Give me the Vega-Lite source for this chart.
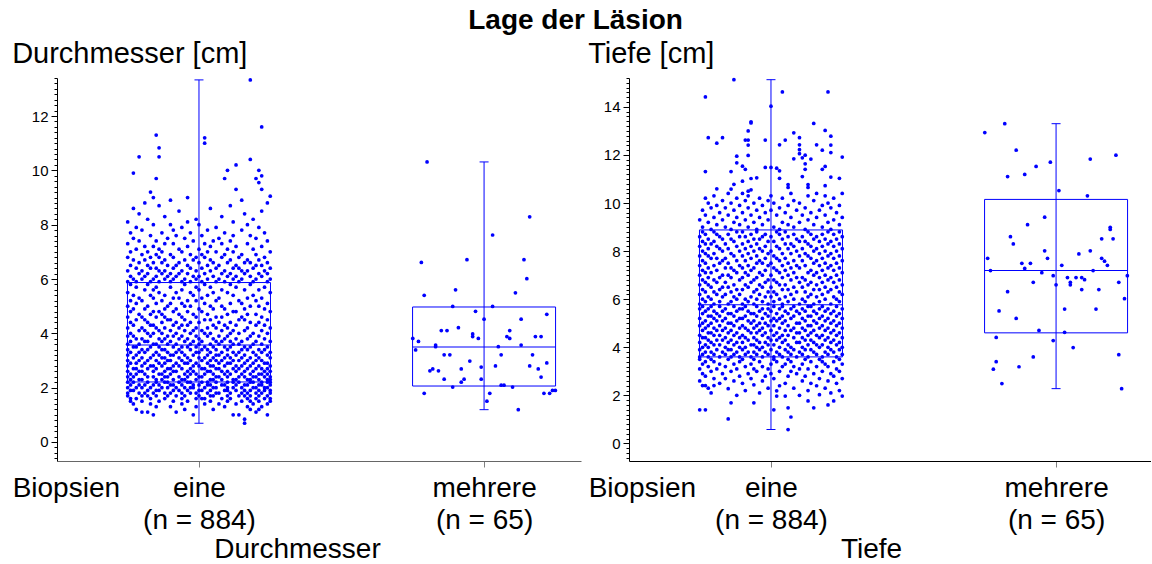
{
  "$schema": "https://vega.github.io/schema/vega-lite/v6.json",
  "padding": {"left": 12, "top": 7, "right": 0, "bottom": 0},
  "title": {"text": "Lage der Läsion", "fontSize": 28, "fontWeight": "bold", "anchor": "middle", "offset": 5, "dx": -6},
  "spacing": 7,
  "hconcat": [
    {
      "width": 524,
      "height": 383,
      "title": {"text": "Durchmesser [cm]", "anchor": "start", "frame": "bounds", "fontSize": 29, "fontWeight": "normal", "offset": 2},
      "data": {"values": [
        {"gruppe": "eine", "pos": 100, "lo": 0.69, "q1": 2.21, "med": 3.57, "q3": 5.87, "hi": 13.33},
        {"gruppe": "mehrere", "pos": 200, "lo": 1.19, "q1": 2.06, "med": 3.50, "q3": 4.97, "hi": 10.31}
      ]},
      "encoding": {
        "x": {
          "field": "pos", "type": "quantitative",
          "scale": {"domain": [50.2, 234], "nice": false, "zero": false, "padding": 0},
          "axis": {
            "values": [53.3, 100, 200],
            "labelExpr": "datum.value < 80 ? 'Biopsien' : datum.value < 150 ? ['eine', '(n = 884)'] : ['mehrere', '(n = 65)']",
            "labelFontSize": 28, "labelLineHeight": 32, "labelPadding": 7,
            "labelOverlap": false, "labelFlush": false,
            "tickSize": 6, "tickColor": "#808080",
            "tickOpacity": {"condition": {"test": "datum.value < 80", "value": 0}, "value": 1},
            "domainColor": "#666666",
            "title": "Durchmesser", "titleFontSize": 28, "titleFontWeight": "normal", "titleX": 240, "titlePadding": 1
          }
        }
      },
      "layer": [
        {
          "data": {
            "values": "pos,cm\n116,0.69\n116,0.84\n98,1.0\n112,1.0\n114,1.0\n124,1.0\n84,1.0\n80,1.1\n82,1.1\n92,1.1\n120,1.1\n78,1.2\n95,1.2\n105,1.2\n118,1.2\n121,1.2\n85,1.3\n99,1.3\n109,1.3\n117,1.3\n122,1.3\n90,1.3\n77,1.4\n83,1.4\n94,1.4\n102,1.4\n107,1.4\n113,1.4\n119,1.4\n124,1.4\n76,1.5\n80,1.5\n86,1.5\n91,1.5\n96,1.5\n104,1.5\n110,1.5\n115,1.5\n118,1.5\n121,1.5\n125,1.5\n76,1.6\n78,1.6\n83,1.6\n88,1.6\n94,1.6\n99,1.6\n101,1.6\n102,1.6\n108,1.6\n111,1.6\n117,1.6\n120,1.6\n123,1.6\n125,1.6\n75,1.7\n80,1.7\n82,1.7\n85,1.7\n89,1.7\n92,1.7\n95,1.7\n100,1.7\n104,1.7\n105,1.7\n110,1.7\n114,1.7\n116,1.7\n118,1.7\n121,1.7\n124,1.7\n75,1.8\n79,1.8\n81,1.8\n84,1.8\n88,1.8\n90,1.8\n94,1.8\n97,1.8\n99,1.8\n103,1.8\n106,1.8\n107,1.8\n111,1.8\n115,1.8\n117,1.8\n120,1.8\n122,1.8\n125,1.8\n76,1.9\n77,1.9\n82,1.9\n85,1.9\n86,1.9\n91,1.9\n93,1.9\n96,1.9\n100,1.9\n101,1.9\n104,1.9\n109,1.9\n110,1.9\n113,1.9\n116,1.9\n118,1.9\n121,1.9\n123,1.9\n125,1.9\n75,2.0\n78,2.0\n80,2.0\n83,2.0\n87,2.0\n89,2.0\n92,2.0\n95,2.0\n97,2.0\n98,2.0\n102,2.0\n105,2.0\n106,2.0\n110,2.0\n112,2.0\n115,2.0\n119,2.0\n120,2.0\n123,2.0\n124,2.0\n76,2.1\n79,2.1\n81,2.1\n84,2.1\n86,2.1\n90,2.1\n91,2.1\n94,2.1\n98,2.1\n100,2.1\n103,2.1\n104,2.1\n108,2.1\n109,2.1\n113,2.1\n116,2.1\n117,2.1\n121,2.1\n122,2.1\n125,2.1\n75,2.2\n77,2.2\n82,2.2\n85,2.2\n88,2.2\n89,2.2\n93,2.2\n96,2.2\n97,2.2\n101,2.2\n103,2.2\n106,2.2\n110,2.2\n112,2.2\n114,2.2\n118,2.2\n119,2.2\n122,2.2\n124,2.2\n125,2.2\n76,2.3\n79,2.3\n80,2.3\n85,2.3\n87,2.3\n91,2.3\n94,2.3\n95,2.3\n99,2.3\n104,2.3\n105,2.3\n108,2.3\n112,2.3\n113,2.3\n117,2.3\n118,2.3\n121,2.3\n124,2.3\n125,2.3\n75,2.4\n77,2.4\n82,2.4\n84,2.4\n88,2.4\n89,2.4\n93,2.4\n96,2.4\n100,2.4\n101,2.4\n106,2.4\n107,2.4\n110,2.4\n114,2.4\n116,2.4\n119,2.4\n120,2.4\n123,2.4\n125,2.4\n76,2.5\n78,2.5\n81,2.5\n86,2.5\n87,2.5\n90,2.5\n95,2.5\n97,2.5\n99,2.5\n102,2.5\n105,2.5\n109,2.5\n111,2.5\n115,2.5\n118,2.5\n121,2.5\n122,2.5\n124,2.5\n75,2.6\n79,2.6\n80,2.6\n84,2.6\n88,2.6\n91,2.6\n92,2.6\n96,2.6\n98,2.6\n103,2.6\n104,2.6\n108,2.6\n110,2.6\n113,2.6\n116,2.6\n119,2.6\n123,2.6\n125,2.6\n77,2.7\n78,2.7\n82,2.7\n85,2.7\n89,2.7\n90,2.7\n94,2.7\n97,2.7\n101,2.7\n102,2.7\n106,2.7\n107,2.7\n112,2.7\n114,2.7\n117,2.7\n120,2.7\n122,2.7\n124,2.7\n75,2.8\n80,2.8\n83,2.8\n84,2.8\n87,2.8\n91,2.8\n93,2.8\n98,2.8\n100,2.8\n104,2.8\n105,2.8\n109,2.8\n113,2.8\n115,2.8\n118,2.8\n121,2.8\n125,2.8\n76,2.9\n78,2.9\n81,2.9\n86,2.9\n88,2.9\n92,2.9\n95,2.9\n96,2.9\n99,2.9\n103,2.9\n107,2.9\n110,2.9\n111,2.9\n116,2.9\n119,2.9\n123,2.9\n124,2.9\n75,3.0\n79,3.0\n82,3.0\n85,3.0\n89,3.0\n90,3.0\n94,3.0\n97,3.0\n101,3.0\n104,3.0\n106,3.0\n108,3.0\n112,3.0\n114,3.0\n117,3.0\n120,3.0\n122,3.0\n77,3.1\n80,3.1\n83,3.1\n87,3.1\n88,3.1\n93,3.1\n96,3.1\n100,3.1\n102,3.1\n105,3.1\n109,3.1\n111,3.1\n115,3.1\n118,3.1\n121,3.1\n125,3.1\n75,3.2\n78,3.2\n84,3.2\n86,3.2\n90,3.2\n91,3.2\n95,3.2\n98,3.2\n103,3.2\n106,3.2\n107,3.2\n110,3.2\n113,3.2\n116,3.2\n120,3.2\n124,3.2\n76,3.3\n79,3.3\n81,3.3\n85,3.3\n89,3.3\n92,3.3\n94,3.3\n99,3.3\n100,3.3\n104,3.3\n108,3.3\n112,3.3\n114,3.3\n119,3.3\n122,3.3\n125,3.3\n75,3.4\n80,3.4\n82,3.4\n87,3.4\n88,3.4\n93,3.4\n97,3.4\n101,3.4\n103,3.4\n106,3.4\n110,3.4\n115,3.4\n117,3.4\n121,3.4\n123,3.4\n77,3.5\n78,3.5\n83,3.5\n86,3.5\n91,3.5\n94,3.5\n96,3.5\n99,3.5\n102,3.5\n105,3.5\n109,3.5\n111,3.5\n116,3.5\n118,3.5\n124,3.5\n75,3.6\n79,3.6\n84,3.6\n85,3.6\n89,3.6\n92,3.6\n97,3.6\n100,3.6\n104,3.6\n107,3.6\n112,3.6\n114,3.6\n119,3.6\n122,3.6\n76,3.7\n81,3.7\n82,3.7\n87,3.7\n90,3.7\n95,3.7\n98,3.7\n101,3.7\n106,3.7\n108,3.7\n111,3.7\n115,3.7\n120,3.7\n125,3.7\n78,3.8\n80,3.8\n86,3.8\n88,3.8\n93,3.8\n96,3.8\n100,3.8\n105,3.8\n109,3.8\n113,3.8\n117,3.8\n123,3.8\n75,3.9\n77,3.9\n83,3.9\n89,3.9\n91,3.9\n94,3.9\n99,3.9\n103,3.9\n107,3.9\n110,3.9\n118,3.9\n121,3.9\n76,4.0\n82,4.0\n84,4.0\n87,4.0\n92,4.0\n97,4.0\n102,4.0\n104,4.0\n111,4.0\n114,4.0\n119,4.0\n124,4.0\n79,4.1\n81,4.1\n86,4.1\n90,4.1\n95,4.1\n98,4.1\n101,4.1\n108,4.1\n112,4.1\n116,4.1\n122,4.1\n75,4.2\n80,4.2\n85,4.2\n88,4.2\n93,4.2\n99,4.2\n103,4.2\n106,4.2\n110,4.2\n117,4.2\n125,4.2\n77,4.3\n83,4.3\n84,4.3\n91,4.3\n94,4.3\n96,4.3\n105,4.3\n109,4.3\n113,4.3\n120,4.3\n123,4.3\n76,4.4\n82,4.4\n87,4.4\n92,4.4\n97,4.4\n100,4.4\n107,4.4\n111,4.4\n118,4.4\n121,4.4\n78,4.5\n81,4.5\n89,4.5\n90,4.5\n95,4.5\n102,4.5\n104,4.5\n114,4.5\n116,4.5\n124,4.5\n75,4.6\n80,4.6\n85,4.6\n88,4.6\n94,4.6\n99,4.6\n106,4.6\n108,4.6\n115,4.6\n122,4.6\n79,4.7\n83,4.7\n87,4.7\n93,4.7\n98,4.7\n103,4.7\n110,4.7\n117,4.7\n120,4.7\n76,4.8\n84,4.8\n86,4.8\n91,4.8\n96,4.8\n101,4.8\n112,4.8\n113,4.8\n125,4.8\n77,4.9\n81,4.9\n88,4.9\n92,4.9\n100,4.9\n105,4.9\n109,4.9\n116,4.9\n123,4.9\n75,5.0\n82,5.0\n89,5.0\n95,5.0\n97,5.0\n104,5.0\n108,5.0\n118,5.0\n121,5.0\n78,5.1\n85,5.1\n90,5.1\n94,5.1\n102,5.1\n111,5.1\n115,5.1\n124,5.1\n76,5.2\n80,5.2\n87,5.2\n96,5.2\n99,5.2\n106,5.2\n114,5.2\n120,5.2\n79,5.3\n84,5.3\n91,5.3\n93,5.3\n101,5.3\n107,5.3\n117,5.3\n122,5.3\n77,5.4\n83,5.4\n88,5.4\n98,5.4\n103,5.4\n112,5.4\n119,5.4\n75,5.5\n86,5.5\n92,5.5\n97,5.5\n105,5.5\n110,5.5\n125,5.5\n81,5.6\n84,5.6\n94,5.6\n100,5.6\n108,5.6\n116,5.6\n121,5.6\n78,5.7\n85,5.7\n90,5.7\n99,5.7\n104,5.7\n113,5.7\n123,5.7\n76,5.8\n82,5.8\n95,5.8\n102,5.8\n111,5.8\n118,5.8\n75,5.9\n78,5.9\n83,5.9\n86,5.9\n90,5.9\n94,5.9\n97,5.9\n101,5.9\n106,5.9\n109,5.9\n114,5.9\n119,5.9\n124,5.9\n77,6.0\n80,6.0\n84,6.0\n88,6.0\n91,6.0\n95,6.0\n99,6.0\n103,6.0\n107,6.0\n112,6.0\n115,6.0\n120,6.0\n125,6.0\n76,6.1\n81,6.1\n85,6.1\n89,6.1\n92,6.1\n98,6.1\n100,6.1\n105,6.1\n110,6.1\n113,6.1\n118,6.1\n122,6.1\n79,6.2\n82,6.2\n87,6.2\n90,6.2\n93,6.2\n96,6.2\n102,6.2\n108,6.2\n111,6.2\n116,6.2\n121,6.2\n124,6.2\n75,6.3\n80,6.3\n86,6.3\n88,6.3\n94,6.3\n99,6.3\n104,6.3\n109,6.3\n115,6.3\n117,6.3\n123,6.3\n78,6.4\n83,6.4\n85,6.4\n91,6.4\n97,6.4\n101,6.4\n106,6.4\n112,6.4\n114,6.4\n119,6.4\n125,6.4\n76,6.5\n82,6.5\n89,6.5\n92,6.5\n96,6.5\n103,6.5\n107,6.5\n113,6.5\n120,6.5\n122,6.5\n79,6.6\n84,6.6\n87,6.6\n93,6.6\n100,6.6\n105,6.6\n110,6.6\n116,6.6\n118,6.6\n124,6.6\n77,6.7\n81,6.7\n88,6.7\n95,6.7\n98,6.7\n104,6.7\n111,6.7\n117,6.7\n121,6.7\n75,6.8\n83,6.8\n86,6.8\n91,6.8\n99,6.8\n102,6.8\n108,6.8\n114,6.8\n123,6.8\n80,6.9\n85,6.9\n90,6.9\n97,6.9\n101,6.9\n109,6.9\n115,6.9\n120,6.9\n76,7.0\n82,7.0\n87,7.0\n94,7.0\n103,7.0\n106,7.0\n112,7.0\n125,7.0\n78,7.1\n86,7.1\n93,7.1\n100,7.1\n110,7.1\n119,7.1\n81,7.2\n84,7.2\n96,7.2\n104,7.2\n113,7.2\n122,7.2\n75,7.3\n88,7.3\n91,7.3\n102,7.3\n108,7.3\n117,7.3\n79,7.4\n85,7.4\n98,7.4\n105,7.4\n111,7.4\n124,7.4\n77,7.5\n89,7.5\n95,7.5\n107,7.5\n120,7.5\n83,7.6\n92,7.6\n101,7.6\n112,7.6\n118,7.6\n76,7.7\n87,7.7\n97,7.7\n109,7.7\n123,7.7\n80,7.8\n91,7.8\n103,7.8\n115,7.8\n78,7.9\n94,7.9\n106,7.9\n121,7.9\n84,8.0\n90,8.0\n100,8.0\n117,8.0\n75,8.1\n96,8.1\n112,8.1\n82,8.2\n99,8.2\n119,8.2\n88,8.3\n108,8.3\n79,8.4\n116,8.4\n93,8.5\n122,8.5\n77,8.6\n104,8.6\n86,8.7\n111,8.7\n81,8.8\n124,8.8\n90,8.9\n115,8.9\n77,9.9\n79,10.5\n85,11.3\n86,10.83\n86,10.5\n85,9.7\n83,9.2\n84,9.0\n96,9.0\n102,11.2\n102,11.0\n109,9.7\n110,10.0\n113,10.2\n113,9.3\n118,10.4\n118,13.33\n122,11.6\n121,10.0\n122,9.8\n120,9.7\n121,9.55\n122,9.3\n125,9.05\n180,10.31\n216,8.29\n203,7.62\n178,6.61\n194,6.71\n214,6.71\n215,6.01\n190,5.60\n179,5.40\n211,5.49\n189,4.99\n203,4.99\n197,4.81\n200,4.52\n213,4.52\n222,4.70\n185,4.10\n187,4.10\n191,4.21\n209,4.10\n196,3.98\n196,3.88\n198,3.81\n208,3.88\n209,3.81\n218,3.88\n220,3.88\n175,3.81\n177,3.70\n183,3.57\n183,3.51\n205,3.51\n213,3.57\n176,3.39\n186,3.21\n188,3.21\n206,3.21\n217,3.21\n195,2.98\n222,2.91\n199,2.76\n204,2.80\n216,2.80\n192,2.69\n219,2.69\n181,2.62\n182,2.69\n184,2.62\n220,2.39\n186,2.31\n193,2.31\n199,2.31\n192,2.20\n189,2.02\n206,2.09\n207,2.09\n210,2.02\n179,1.79\n202,1.79\n221,1.79\n223,1.79\n224,1.90\n225,1.90\n201,1.50\n212,1.19",
            "format": {"type": "csv", "parse": {"pos": "number", "cm": "number"}}
          },
          "mark": {"type": "circle", "size": 14, "opacity": 1, "color": "#0000ff"},
          "encoding": {
            "y": {
              "field": "cm", "type": "quantitative",
              "scale": {"domain": [-0.7, 13.4], "nice": false, "zero": false, "padding": 0},
              "axis": {
                "title": null, "tickCount": 70,
                "labelExpr": "round(datum.value * 5) % 10 == 0 ? format(datum.value, 'd') : ''",
                "tickSize": {"condition": {"test": "round(datum.value * 5) % 10 == 0", "value": 6}, "value": 3},
                "labelFontSize": 15, "labelPadding": 3, "labelOverlap": false, "labelFlush": false
              }
            }
          }
        },
        {
          "mark": {"type": "rule", "color": "#0000ff", "strokeWidth": 1, "opacity": 1},
          "encoding": {
            "y": {"field": "lo", "type": "quantitative", "scale": {"domain": [-0.7, 13.4], "nice": false, "zero": false, "padding": 0}},
            "y2": {"field": "hi"}
          }
        },
        {
          "mark": {"type": "bar", "size": 143, "fill": "transparent", "stroke": "#0000ff", "strokeWidth": 1, "opacity": 1},
          "encoding": {
            "y": {"field": "q1", "type": "quantitative", "scale": {"domain": [-0.7, 13.4], "nice": false, "zero": false, "padding": 0}},
            "y2": {"field": "q3"}
          }
        },
        {
          "mark": {"type": "tick", "orient": "horizontal", "size": 143, "thickness": 1, "color": "#0000ff", "opacity": 1},
          "encoding": {
            "y": {"field": "med", "type": "quantitative", "scale": {"domain": [-0.7, 13.4], "nice": false, "zero": false, "padding": 0}}
          }
        },
        {
          "mark": {"type": "tick", "orient": "horizontal", "size": 9, "thickness": 1, "color": "#0000ff", "opacity": 1},
          "encoding": {
            "y": {"field": "lo", "type": "quantitative", "scale": {"domain": [-0.7, 13.4], "nice": false, "zero": false, "padding": 0}}
          }
        },
        {
          "mark": {"type": "tick", "orient": "horizontal", "size": 9, "thickness": 1, "color": "#0000ff", "opacity": 1},
          "encoding": {
            "y": {"field": "hi", "type": "quantitative", "scale": {"domain": [-0.7, 13.4], "nice": false, "zero": false, "padding": 0}}
          }
        }
      ]
    },
    {
      "width": 522,
      "height": 383,
      "title": {"text": "Tiefe [cm]", "anchor": "start", "frame": "bounds", "fontSize": 29, "fontWeight": "normal", "offset": 2},
      "data": {"values": [
        {"gruppe": "eine", "pos": 100, "lo": 0.58, "q1": 3.60, "med": 5.77, "q3": 8.88, "hi": 15.13},
        {"gruppe": "mehrere", "pos": 200, "lo": 2.28, "q1": 4.60, "med": 7.19, "q3": 10.15, "hi": 13.30}
      ]},
      "encoding": {
        "x": {
          "field": "pos", "type": "quantitative",
          "scale": {"domain": [50.2, 233.3], "nice": false, "zero": false, "padding": 0},
          "axis": {
            "values": [54.7, 100, 200],
            "labelExpr": "datum.value < 80 ? 'Biopsien' : datum.value < 150 ? ['eine', '(n = 884)'] : ['mehrere', '(n = 65)']",
            "labelFontSize": 28, "labelLineHeight": 32, "labelPadding": 7,
            "labelOverlap": false, "labelFlush": false,
            "tickSize": 6, "tickColor": "#808080",
            "tickOpacity": {"condition": {"test": "datum.value < 80", "value": 0}, "value": 1},
            "domainColor": "#000000",
            "title": "Tiefe", "titleFontSize": 28, "titleFontWeight": "normal", "titleX": 242, "titlePadding": 1
          }
        }
      },
      "layer": [
        {
          "data": {
            "values": "pos,cm\n106,0.58\n107,1.10\n85,1.02\n101,1.40\n75,1.40\n77,1.40\n106,1.48\n115,1.48\n120,1.60\n86,1.69\n94,1.69\n113,1.77\n122,1.77\n105,1.97\n102,1.97\n125,1.97\n117,2.03\n88,2.0\n110,2.0\n79,2.1\n96,2.1\n121,2.1\n102,2.19\n91,2.2\n113,2.2\n124,2.2\n85,2.28\n78,2.3\n99,2.3\n108,2.3\n119,2.3\n76,2.41\n77,2.41\n80,2.41\n94,2.44\n103,2.4\n116,2.4\n82,2.5\n90,2.5\n105,2.5\n114,2.5\n123,2.5\n75,2.6\n87,2.6\n97,2.6\n111,2.6\n120,2.6\n80,2.7\n84,2.7\n93,2.7\n101,2.7\n117,2.7\n125,2.7\n77,2.8\n89,2.8\n98,2.8\n106,2.8\n112,2.8\n122,2.8\n76,2.9\n83,2.9\n92,2.9\n100,2.9\n109,2.9\n115,2.9\n121,2.9\n79,3.0\n86,3.0\n95,3.0\n103,3.0\n107,3.0\n118,3.0\n124,3.0\n75,3.1\n81,3.1\n88,3.1\n94,3.1\n99,3.1\n110,3.1\n113,3.1\n123,3.1\n78,3.2\n84,3.2\n91,3.2\n97,3.2\n104,3.2\n108,3.2\n116,3.2\n120,3.2\n76,3.3\n82,3.3\n87,3.3\n93,3.3\n100,3.3\n105,3.3\n111,3.3\n119,3.3\n125,3.3\n77,3.4\n80,3.4\n89,3.4\n96,3.4\n102,3.4\n107,3.4\n114,3.4\n118,3.4\n122,3.4\n75,3.5\n79,3.5\n85,3.5\n90,3.5\n94,3.5\n101,3.5\n106,3.5\n112,3.5\n117,3.5\n124,3.5\n75,3.6\n78,3.6\n82,3.6\n86,3.6\n89,3.6\n93,3.6\n97,3.6\n101,3.6\n104,3.6\n109,3.6\n113,3.6\n118,3.6\n123,3.6\n76,3.7\n80,3.7\n84,3.7\n87,3.7\n91,3.7\n95,3.7\n99,3.7\n103,3.7\n107,3.7\n111,3.7\n116,3.7\n120,3.7\n125,3.7\n77,3.8\n79,3.8\n83,3.8\n88,3.8\n92,3.8\n94,3.8\n98,3.8\n102,3.8\n106,3.8\n110,3.8\n115,3.8\n119,3.8\n122,3.8\n75,3.9\n81,3.9\n85,3.9\n86,3.9\n90,3.9\n96,3.9\n100,3.9\n105,3.9\n108,3.9\n112,3.9\n114,3.9\n121,3.9\n124,3.9\n76,4.0\n78,4.0\n84,4.0\n89,4.0\n91,4.0\n95,4.0\n97,4.0\n103,4.0\n107,4.0\n111,4.0\n117,4.0\n120,4.0\n125,4.0\n77,4.1\n80,4.1\n82,4.1\n87,4.1\n93,4.1\n94,4.1\n99,4.1\n101,4.1\n106,4.1\n113,4.1\n116,4.1\n118,4.1\n123,4.1\n75,4.2\n79,4.2\n85,4.2\n88,4.2\n90,4.2\n96,4.2\n98,4.2\n104,4.2\n109,4.2\n110,4.2\n115,4.2\n121,4.2\n124,4.2\n78,4.3\n81,4.3\n83,4.3\n86,4.3\n92,4.3\n95,4.3\n100,4.3\n102,4.3\n105,4.3\n112,4.3\n114,4.3\n119,4.3\n122,4.3\n76,4.4\n77,4.4\n84,4.4\n89,4.4\n91,4.4\n94,4.4\n99,4.4\n103,4.4\n108,4.4\n111,4.4\n117,4.4\n120,4.4\n125,4.4\n75,4.5\n80,4.5\n82,4.5\n87,4.5\n90,4.5\n97,4.5\n101,4.5\n104,4.5\n106,4.5\n113,4.5\n116,4.5\n118,4.5\n123,4.5\n78,4.6\n79,4.6\n85,4.6\n88,4.6\n93,4.6\n95,4.6\n98,4.6\n102,4.6\n109,4.6\n110,4.6\n114,4.6\n121,4.6\n124,4.6\n76,4.7\n81,4.7\n83,4.7\n86,4.7\n92,4.7\n96,4.7\n100,4.7\n105,4.7\n107,4.7\n112,4.7\n115,4.7\n119,4.7\n122,4.7\n77,4.8\n80,4.8\n84,4.8\n89,4.8\n91,4.8\n94,4.8\n97,4.8\n103,4.8\n108,4.8\n111,4.8\n117,4.8\n120,4.8\n125,4.8\n75,4.9\n78,4.9\n82,4.9\n87,4.9\n90,4.9\n95,4.9\n99,4.9\n101,4.9\n106,4.9\n113,4.9\n114,4.9\n118,4.9\n123,4.9\n76,5.0\n79,5.0\n85,5.0\n86,5.0\n93,5.0\n96,5.0\n98,5.0\n104,5.0\n109,5.0\n110,5.0\n116,5.0\n121,5.0\n124,5.0\n77,5.1\n81,5.1\n83,5.1\n88,5.1\n92,5.1\n94,5.1\n100,5.1\n102,5.1\n105,5.1\n112,5.1\n115,5.1\n119,5.1\n122,5.1\n75,5.2\n80,5.2\n84,5.2\n89,5.2\n90,5.2\n97,5.2\n101,5.2\n103,5.2\n107,5.2\n111,5.2\n117,5.2\n120,5.2\n125,5.2\n78,5.3\n79,5.3\n82,5.3\n87,5.3\n91,5.3\n95,5.3\n99,5.3\n104,5.3\n108,5.3\n113,5.3\n114,5.3\n118,5.3\n123,5.3\n76,5.4\n81,5.4\n85,5.4\n86,5.4\n93,5.4\n94,5.4\n98,5.4\n102,5.4\n106,5.4\n110,5.4\n116,5.4\n121,5.4\n124,5.4\n77,5.5\n80,5.5\n83,5.5\n88,5.5\n92,5.5\n96,5.5\n100,5.5\n105,5.5\n109,5.5\n112,5.5\n115,5.5\n119,5.5\n122,5.5\n75,5.6\n78,5.6\n84,5.6\n89,5.6\n90,5.6\n97,5.6\n99,5.6\n103,5.6\n107,5.6\n111,5.6\n117,5.6\n120,5.6\n125,5.6\n76,5.7\n79,5.7\n82,5.7\n87,5.7\n91,5.7\n95,5.7\n101,5.7\n104,5.7\n108,5.7\n113,5.7\n114,5.7\n118,5.7\n123,5.7\n75,5.8\n80,5.8\n85,5.8\n90,5.8\n94,5.8\n99,5.8\n104,5.8\n110,5.8\n115,5.8\n121,5.8\n77,5.9\n82,5.9\n86,5.9\n92,5.9\n97,5.9\n101,5.9\n106,5.9\n112,5.9\n117,5.9\n124,5.9\n76,6.0\n79,6.0\n88,6.0\n91,6.0\n95,6.0\n103,6.0\n108,6.0\n111,6.0\n119,6.0\n123,6.0\n78,6.1\n83,6.1\n87,6.1\n93,6.1\n98,6.1\n100,6.1\n105,6.1\n113,6.1\n116,6.1\n122,6.1\n75,6.2\n81,6.2\n84,6.2\n89,6.2\n96,6.2\n102,6.2\n107,6.2\n114,6.2\n118,6.2\n125,6.2\n77,6.3\n80,6.3\n86,6.3\n94,6.3\n99,6.3\n101,6.3\n109,6.3\n112,6.3\n120,6.3\n124,6.3\n76,6.4\n82,6.4\n88,6.4\n90,6.4\n95,6.4\n104,6.4\n106,6.4\n115,6.4\n117,6.4\n121,6.4\n79,6.5\n83,6.5\n85,6.5\n92,6.5\n97,6.5\n100,6.5\n108,6.5\n111,6.5\n119,6.5\n123,6.5\n75,6.6\n78,6.6\n87,6.6\n91,6.6\n96,6.6\n103,6.6\n105,6.6\n113,6.6\n116,6.6\n125,6.6\n77,6.7\n81,6.7\n84,6.7\n93,6.7\n98,6.7\n102,6.7\n110,6.7\n114,6.7\n118,6.7\n122,6.7\n76,6.8\n80,6.8\n89,6.8\n94,6.8\n99,6.8\n101,6.8\n107,6.8\n112,6.8\n120,6.8\n124,6.8\n78,6.9\n82,6.9\n86,6.9\n90,6.9\n95,6.9\n104,6.9\n109,6.9\n111,6.9\n117,6.9\n121,6.9\n75,7.0\n83,7.0\n85,7.0\n92,7.0\n97,7.0\n100,7.0\n106,7.0\n115,7.0\n119,7.0\n123,7.0\n77,7.1\n79,7.1\n88,7.1\n91,7.1\n96,7.1\n103,7.1\n108,7.1\n113,7.1\n116,7.1\n125,7.1\n76,7.2\n81,7.2\n87,7.2\n93,7.2\n98,7.2\n102,7.2\n105,7.2\n114,7.2\n118,7.2\n122,7.2\n78,7.3\n84,7.3\n86,7.3\n90,7.3\n94,7.3\n101,7.3\n107,7.3\n110,7.3\n120,7.3\n124,7.3\n75,7.4\n80,7.4\n89,7.4\n92,7.4\n99,7.4\n104,7.4\n109,7.4\n112,7.4\n117,7.4\n121,7.4\n77,7.5\n82,7.5\n85,7.5\n95,7.5\n97,7.5\n100,7.5\n106,7.5\n115,7.5\n119,7.5\n123,7.5\n76,7.6\n83,7.6\n88,7.6\n91,7.6\n96,7.6\n103,7.6\n108,7.6\n111,7.6\n116,7.6\n125,7.6\n79,7.7\n81,7.7\n84,7.7\n93,7.7\n98,7.7\n102,7.7\n105,7.7\n114,7.7\n118,7.7\n122,7.7\n75,7.8\n78,7.8\n87,7.8\n90,7.8\n95,7.8\n101,7.8\n110,7.8\n113,7.8\n120,7.8\n124,7.8\n77,7.9\n80,7.9\n86,7.9\n92,7.9\n99,7.9\n104,7.9\n107,7.9\n112,7.9\n117,7.9\n121,7.9\n76,8.0\n83,8.0\n89,8.0\n94,8.0\n97,8.0\n100,8.0\n109,8.0\n115,8.0\n119,8.0\n123,8.0\n78,8.1\n82,8.1\n85,8.1\n91,8.1\n96,8.1\n103,8.1\n106,8.1\n111,8.1\n116,8.1\n125,8.1\n75,8.2\n81,8.2\n88,8.2\n93,8.2\n98,8.2\n102,8.2\n108,8.2\n114,8.2\n118,8.2\n122,8.2\n77,8.3\n79,8.3\n84,8.3\n90,8.3\n95,8.3\n105,8.3\n107,8.3\n113,8.3\n120,8.3\n124,8.3\n76,8.4\n80,8.4\n87,8.4\n92,8.4\n99,8.4\n101,8.4\n110,8.4\n112,8.4\n117,8.4\n121,8.4\n78,8.5\n83,8.5\n86,8.5\n94,8.5\n96,8.5\n104,8.5\n109,8.5\n115,8.5\n119,8.5\n123,8.5\n75,8.6\n82,8.6\n89,8.6\n91,8.6\n97,8.6\n100,8.6\n106,8.6\n111,8.6\n116,8.6\n125,8.6\n77,8.7\n81,8.7\n85,8.7\n93,8.7\n98,8.7\n103,8.7\n108,8.7\n114,8.7\n118,8.7\n122,8.7\n76,8.8\n80,8.8\n88,8.8\n90,8.8\n95,8.8\n102,8.8\n105,8.8\n113,8.8\n120,8.8\n124,8.8\n79,8.9\n86,8.9\n95,8.9\n103,8.9\n112,8.9\n121,8.9\n76,9.0\n84,9.0\n92,9.0\n101,9.0\n108,9.0\n118,9.0\n81,9.1\n89,9.1\n97,9.1\n106,9.1\n115,9.1\n124,9.1\n78,9.2\n87,9.2\n94,9.2\n104,9.2\n110,9.2\n120,9.2\n75,9.3\n83,9.3\n91,9.3\n99,9.3\n113,9.3\n122,9.3\n80,9.4\n88,9.4\n96,9.4\n107,9.4\n116,9.4\n125,9.4\n77,9.5\n85,9.5\n93,9.5\n102,9.5\n111,9.5\n119,9.5\n82,9.6\n90,9.6\n98,9.6\n105,9.6\n114,9.6\n123,9.6\n76,9.7\n87,9.7\n95,9.7\n100,9.7\n109,9.7\n117,9.7\n79,9.8\n84,9.8\n92,9.8\n103,9.8\n112,9.8\n121,9.8\n81,9.9\n89,9.9\n97,9.9\n106,9.9\n118,9.9\n124,9.9\n78,10.0\n86,10.0\n94,10.0\n101,10.0\n110,10.0\n120,10.0\n83,10.1\n91,10.1\n99,10.1\n108,10.1\n115,10.1\n77,10.2\n88,10.2\n96,10.2\n104,10.2\n122,10.2\n80,10.3\n92,10.3\n100,10.3\n113,10.3\n119,10.3\n85,10.4\n90,10.4\n107,10.4\n116,10.4\n125,10.4\n87,15.13\n77,14.41\n100,14.03\n104,14.62\n120,14.62\n93,13.38\n93,13.33\n92,13.0\n115,13.31\n78,12.72\n83,12.72\n81,12.49\n91,12.62\n92,12.62\n92,12.41\n98,12.62\n105,12.62\n108,12.92\n110,12.72\n119,13.02\n121,12.78\n121,12.41\n121,12.10\n118,12.20\n116,12.42\n110,12.42\n110,12.22\n112,11.99\n114,11.83\n108,11.84\n103,12.42\n98,11.48\n100,11.48\n102,11.45\n103,11.34\n103,11.03\n88,11.95\n88,11.67\n90,11.53\n91,11.40\n92,11.98\n77,11.31\n86,11.31\n95,11.05\n93,11.02\n90,10.91\n87,10.78\n81,10.59\n86,10.58\n93,10.55\n92,10.49\n106,10.77\n106,10.65\n113,10.77\n113,10.65\n119,10.72\n121,11.08\n119,11.52\n118,11.40\n124,11.03\n125,11.91\n112,11.63\n112,11.40\n111,11.10\n111,11.88\n110,12.05\n182,13.30\n175,12.93\n186,12.20\n221,11.99\n212,11.83\n198,11.70\n193,11.52\n183,11.10\n189,11.19\n201,10.52\n211,10.30\n196,9.41\n190,9.10\n219,8.99\n219,8.90\n184,8.60\n216,8.51\n220,8.51\n185,8.30\n196,8.01\n212,8.01\n208,7.88\n176,7.70\n197,7.70\n216,7.70\n217,7.58\n188,7.49\n191,7.49\n218,7.41\n202,7.41\n189,7.28\n177,7.19\n213,7.19\n195,7.10\n199,6.98\n225,6.98\n204,6.90\n207,6.90\n209,6.90\n210,6.81\n205,6.70\n205,6.60\n192,6.70\n200,6.60\n222,6.70\n209,6.40\n215,6.40\n183,6.31\n224,6.02\n203,5.59\n214,5.59\n180,5.51\n186,5.20\n194,4.70\n203,4.62\n179,4.41\n199,4.28\n206,3.99\n192,3.60\n222,3.69\n179,3.40\n178,3.09\n187,3.19\n181,2.49\n223,2.28",
            "format": {"type": "csv", "parse": {"pos": "number", "cm": "number"}}
          },
          "mark": {"type": "circle", "size": 14, "opacity": 1, "color": "#0000ff"},
          "encoding": {
            "y": {
              "field": "cm", "type": "quantitative",
              "scale": {"domain": [-0.73, 15.2], "nice": false, "zero": false, "padding": 0},
              "axis": {
                "title": null, "tickCount": 80,
                "labelExpr": "round(datum.value * 5) % 10 == 0 ? format(datum.value, 'd') : ''",
                "tickSize": {"condition": {"test": "round(datum.value * 5) % 10 == 0", "value": 6}, "value": 3},
                "labelFontSize": 15, "labelPadding": 3, "labelOverlap": false, "labelFlush": false
              }
            }
          }
        },
        {
          "mark": {"type": "rule", "color": "#0000ff", "strokeWidth": 1, "opacity": 1},
          "encoding": {
            "y": {"field": "lo", "type": "quantitative", "scale": {"domain": [-0.73, 15.2], "nice": false, "zero": false, "padding": 0}},
            "y2": {"field": "hi"}
          }
        },
        {
          "mark": {"type": "bar", "size": 143, "fill": "transparent", "stroke": "#0000ff", "strokeWidth": 1, "opacity": 1},
          "encoding": {
            "y": {"field": "q1", "type": "quantitative", "scale": {"domain": [-0.73, 15.2], "nice": false, "zero": false, "padding": 0}},
            "y2": {"field": "q3"}
          }
        },
        {
          "mark": {"type": "tick", "orient": "horizontal", "size": 143, "thickness": 1, "color": "#0000ff", "opacity": 1},
          "encoding": {
            "y": {"field": "med", "type": "quantitative", "scale": {"domain": [-0.73, 15.2], "nice": false, "zero": false, "padding": 0}}
          }
        },
        {
          "mark": {"type": "tick", "orient": "horizontal", "size": 9, "thickness": 1, "color": "#0000ff", "opacity": 1},
          "encoding": {
            "y": {"field": "lo", "type": "quantitative", "scale": {"domain": [-0.73, 15.2], "nice": false, "zero": false, "padding": 0}}
          }
        },
        {
          "mark": {"type": "tick", "orient": "horizontal", "size": 9, "thickness": 1, "color": "#0000ff", "opacity": 1},
          "encoding": {
            "y": {"field": "hi", "type": "quantitative", "scale": {"domain": [-0.73, 15.2], "nice": false, "zero": false, "padding": 0}}
          }
        }
      ]
    }
  ],
  "config": {
    "font": "Liberation Sans",
    "view": {"stroke": null},
    "title": {"font": "Liberation Sans", "color": "#000000"},
    "axis": {
      "grid": false,
      "labelFont": "Liberation Sans", "titleFont": "Liberation Sans",
      "labelColor": "#000000", "titleColor": "#000000",
      "domainColor": "#000000", "tickColor": "#000000"
    }
  }
}
